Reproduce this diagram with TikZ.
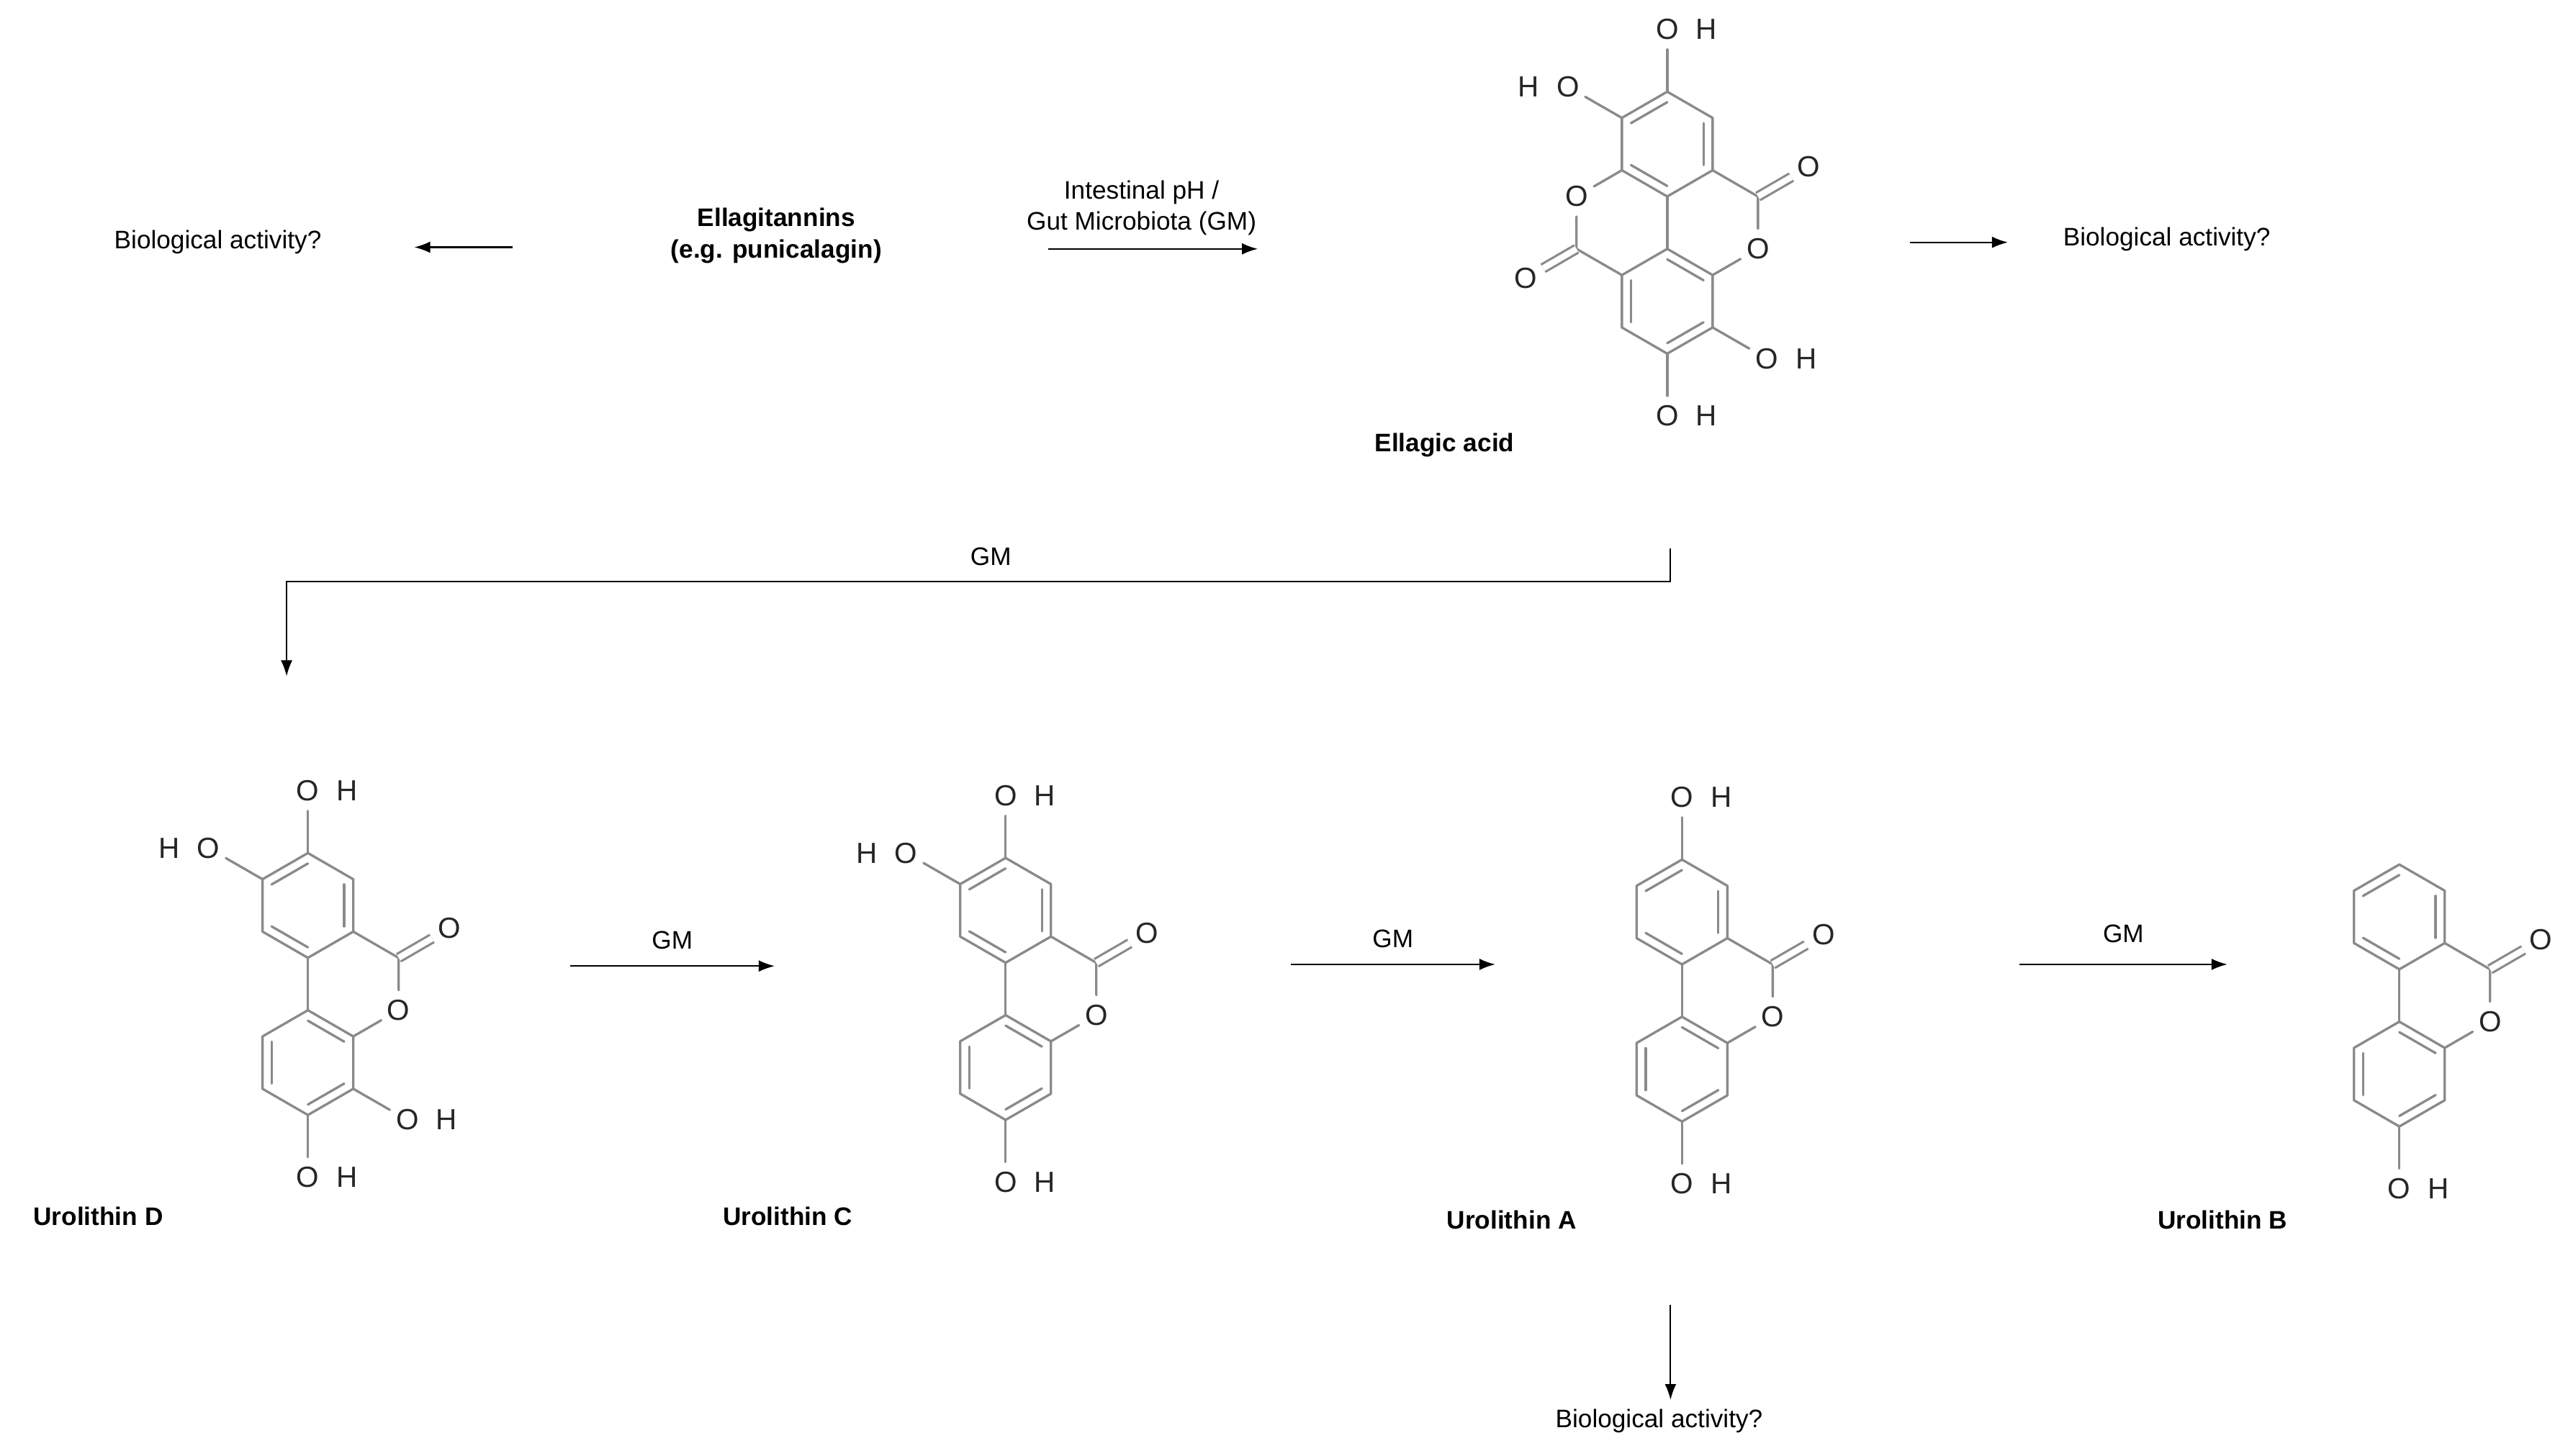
\documentclass[tikz,border=0pt]{standalone}
\usepackage{fontspec}
\setmainfont{Liberation Sans}
\usetikzlibrary{calc,arrows.meta}
\definecolor{bondgray}{HTML}{8A8A8A}
\newcommand\hexat[3]{%
 \coordinate (#1c) at (#2,#3);
 \coordinate (#11) at (#2,#3-32);
 \coordinate (#12) at (#2+27.7,#3-16);
 \coordinate (#13) at (#2+27.7,#3+16);
 \coordinate (#14) at (#2,#3+32);
 \coordinate (#15) at (#2-27.7,#3+16);
 \coordinate (#16) at (#2-27.7,#3-16);
 \draw[bond] (#11)--(#12)--(#13)--(#14)--(#15)--(#16)--cycle;}
\newcommand\dbl[3]{\draw[bond] ($(#1)!0.2!(#3)$) -- ($(#2)!0.2!(#3)$);}
\newcommand\uro[3]{%
 \hexat{#1t}{#2}{#3}
 \hexat{#1b}{#2}{#3+96}
 \dbl{#1t6}{#1t1}{#1tc}\dbl{#1t2}{#1t3}{#1tc}\dbl{#1t4}{#1t5}{#1tc}
 \dbl{#1b1}{#1b2}{#1bc}\dbl{#1b5}{#1b6}{#1bc}\dbl{#1b3}{#1b4}{#1bc}
 \coordinate (#1cc) at (#2+55.4,#3+32);
 \node[atom] (#1o) at (#2+55.4,#3+64) {O};
 \node[atom] (#1oc) at (#2+86.4,#3+14) {O};
 \draw[bond] (#1t3)--(#1cc)--(#1o)--(#1b2);
 \draw[bond] (#1t4)--(#1b1);
 \draw[cbond] (#1cc)--(#1oc);}
\newcommand\OHr[3]{\node[atom] (#1) at (#2) {O}; \node[atom,anchor=west] (#1h) at (#1.east) {H}; \draw[bond] (#3)--(#1);}
\newcommand\HOl[3]{\node[atom] (#1) at (#2) {O}; \node[atom,anchor=east] (#1h) at (#1.west) {H}; \draw[bond] (#3)--(#1);}
\begin{document}
\begin{tikzpicture}[x=0.0227cm,y=-0.0227cm,
 bond/.style={draw=bondgray,line width=0.95pt,line join=round,line cap=round},
 cbond/.style={draw=bondgray,line width=0.9pt,double,double distance=2.4pt},
 atom/.style={font=\fontsize{11.5}{12}\selectfont,text=black!85,inner sep=1.2pt,circle},
 lbl/.style={font=\fontsize{10}{12}\selectfont,align=center},
 blbl/.style={font=\bfseries\fontsize{10}{12.5}\selectfont,align=center},
 arr/.style={-{Latex[length=2.2mm,width=1.6mm]},line width=0.6pt}]
\useasboundingbox (0,0) rectangle (1568,889);
% top row
\node[lbl] (bio1) at (133,148) {Biological activity?};
\node[blbl] (ella) at (474,144) {Ellagitannins\\(e.g. punicalagin)};
\coordinate (a1s) at (313,151); \coordinate (a1e) at (253,151);
\draw[arr] (a1s) -- (a1e);
\node[lbl] (ph) at (697,127) {Intestinal pH /\\Gut Microbiota (GM)};
\coordinate (a2s) at (640,152); \coordinate (a2e) at (768,152);
\draw[arr] (a2s) -- (a2e);
% ellagic acid
\hexat{et}{1018}{88}
\hexat{eb}{1018}{184}
\dbl{et6}{et1}{etc}\dbl{et2}{et3}{etc}\dbl{et4}{et5}{etc}
\dbl{eb1}{eb2}{ebc}\dbl{eb5}{eb6}{ebc}\dbl{eb3}{eb4}{ebc}
\draw[bond] (et4)--(eb1);
\node[atom] (eol) at (962.6,120) {O};
\coordinate (ecl) at (962.6,152);
\node[atom] (eocl) at (931.6,170) {O};
\draw[bond] (et5)--(eol)--(ecl)--(eb6);
\draw[cbond] (ecl)--(eocl);
\node[atom] (eor) at (1073.4,152) {O};
\coordinate (ecr) at (1073.4,120);
\node[atom] (eocr) at (1104.4,102) {O};
\draw[bond] (et3)--(ecr)--(eor)--(eb2);
\draw[cbond] (ecr)--(eocr);
\OHr{eoh1}{$(et1)+(0,-38)$}{et1}
\HOl{eoh2}{$(et6)+(-33,-19)$}{et6}
\OHr{eoh3}{$(eb3)+(33,19)$}{eb3}
\OHr{eoh4}{$(eb4)+(0,38)$}{eb4}
\node[blbl] (ealbl) at (882,272) {Ellagic acid};
\coordinate (a3s) at (1166,148); \coordinate (a3e) at (1226,148);
\draw[arr] (a3s) -- (a3e);
\node[lbl] (bio2) at (1323,146) {Biological activity?};
% GM elbow
\coordinate (g1) at (1020,335); \coordinate (g2) at (175,413);
\draw[arr] (g1) |- (175,355) -- (g2);
\node[lbl] (gm0) at (605,340) {GM};
% urolithins
\uro{d}{188}{553}
\OHr{doh1}{$(dt1)+(0,-38)$}{dt1}
\HOl{doh2}{$(dt6)+(-33,-19)$}{dt6}
\OHr{doh3}{$(db3)+(33,19)$}{db3}
\OHr{doh4}{$(db4)+(0,38)$}{db4}
\node[blbl] (dl) at (60,743) {Urolithin D};
\uro{c}{614}{556}
\OHr{coh1}{$(ct1)+(0,-38)$}{ct1}
\HOl{coh2}{$(ct6)+(-33,-19)$}{ct6}
\OHr{coh4}{$(cb4)+(0,38)$}{cb4}
\node[blbl] (cl) at (481,743) {Urolithin C};
\uro{a}{1027}{557}
\OHr{aoh1}{$(at1)+(0,-38)$}{at1}
\OHr{aoh4}{$(ab4)+(0,38)$}{ab4}
\node[blbl] (al) at (923,745) {Urolithin A};
\uro{b}{1465}{560}
\OHr{boh4}{$(bb4)+(0,38)$}{bb4}
\node[blbl] (bl) at (1357,745) {Urolithin B};
% GM arrows
\coordinate (r1s) at (348,590); \coordinate (r1e) at (473,590);
\draw[arr] (r1s) -- (r1e) node[lbl,midway,above=3pt] (gm1) {GM};
\coordinate (r2s) at (788,589); \coordinate (r2e) at (913,589);
\draw[arr] (r2s) -- (r2e) node[lbl,midway,above=3pt] (gm2) {GM};
\coordinate (r3s) at (1233,589); \coordinate (r3e) at (1360,589);
\draw[arr] (r3s) -- (r3e) node[lbl,midway,above=5pt] (gm3) {GM};
\coordinate (dns) at (1020,797); \coordinate (dne) at (1020,855);
\draw[arr] (dns) -- (dne);
\node[lbl] (bio3) at (1013,868) {Biological activity?};
\end{tikzpicture}
\end{document}
